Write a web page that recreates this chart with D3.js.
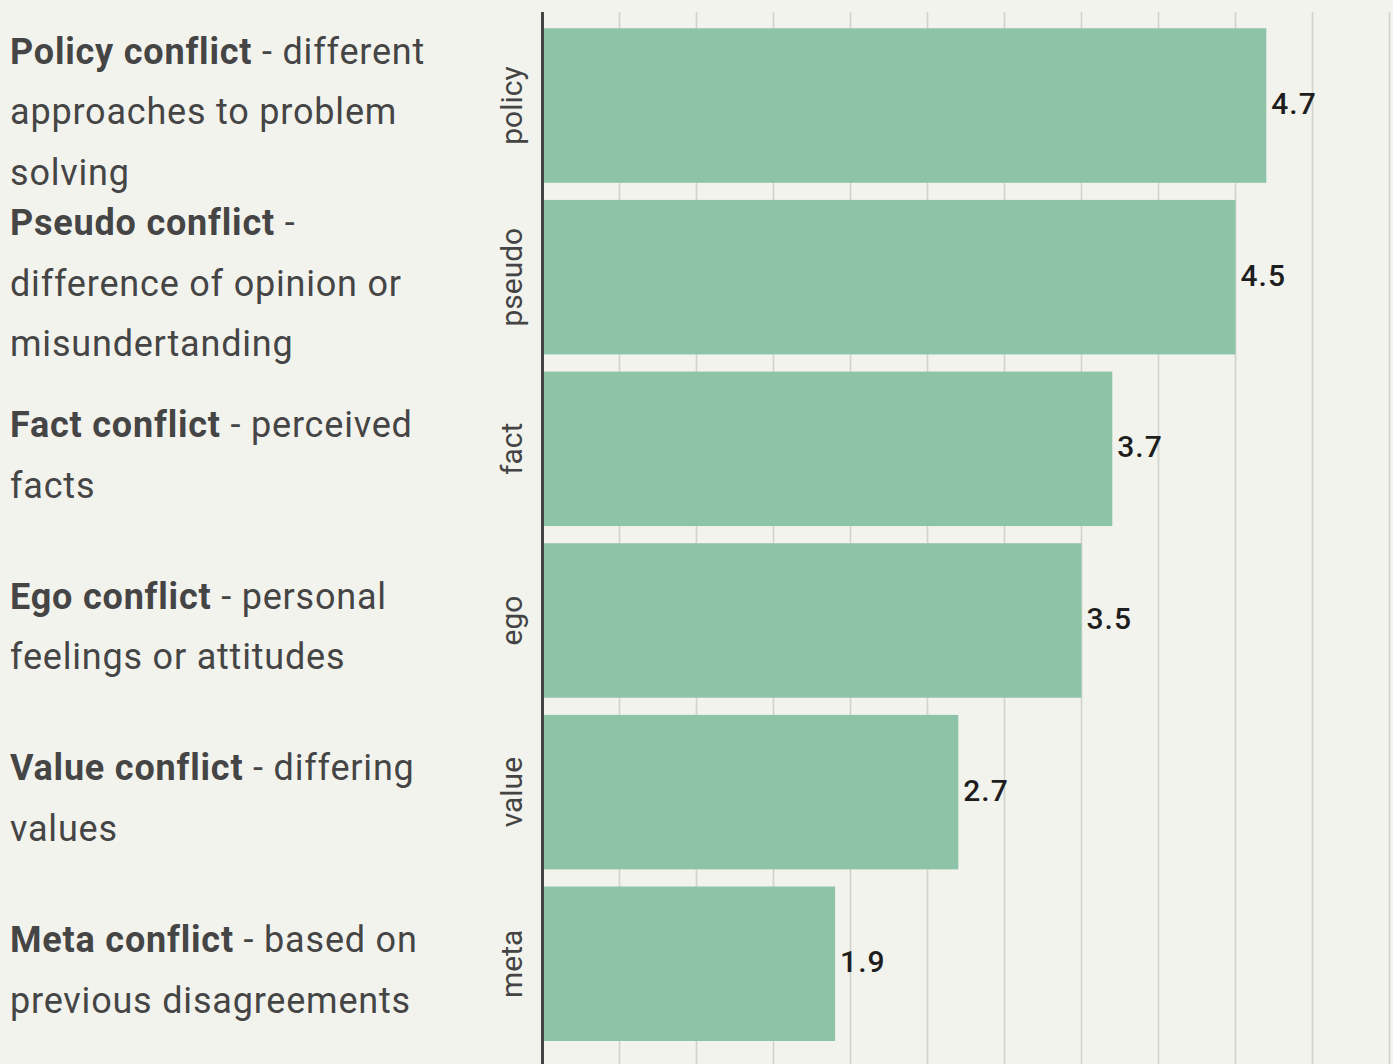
<!DOCTYPE html>
<html>
<head>
<meta charset="utf-8">
<script src="https://cdn.jsdelivr.net/npm/d3@7"></script>
<style>
  html, body { margin: 0; padding: 0; background: #f3f3ee; overflow: hidden; }
  svg { display: block; font-family: Roboto, "Noto Sans", sans-serif; }
</style>
</head>
<body>
<svg id="chart" width="1393" height="1064"></svg>
<script>
// Conflict types, mean scores
const categories = ["policy", "pseudo", "fact", "ego", "value", "meta"];
const values = [4.7, 4.5, 3.7, 3.5, 2.7, 1.9];
const titles = [
  "Policy conflict", "Pseudo conflict", "Fact conflict",
  "Ego conflict", "Value conflict", "Meta conflict"
];
// Each description: first line continues after the bold title, later lines wrap
const descriptions = [
  [" - different", "approaches to problem", "solving"],
  [" -", "difference of opinion or", "misundertanding"],
  [" - perceived", "facts"],
  [" - personal", "feelings or attitudes"],
  [" - differing", "values"],
  [" - based on", "previous disagreements"]
];
const gridTicks = [0.5, 1, 1.5, 2, 2.5, 3, 3.5, 4, 4.5, 5, 5.5];

const W = 1393, H = 1064;
const svg = d3.select("#chart");

const x = d3.scaleLinear().domain([0, 5.65]).range([542.5, 542.5 + 5.65 * 154]);
const y = d3.scaleBand().domain(categories).range([19.7, 1049.6])
  .paddingInner(0.1).paddingOuter(0.05);

// vertical gridlines
svg.append("g").selectAll("line").data(gridTicks).join("line")
  .attr("x1", d => x(d)).attr("x2", d => x(d))
  .attr("y1", 12).attr("y2", H)
  .attr("stroke", "#d3d3ce").attr("stroke-width", 1.6);

// bars
svg.append("g").selectAll("rect").data(categories).join("rect")
  .attr("x", x(0))
  .attr("y", d => y(d))
  .attr("width", (d, i) => x(values[i]) - x(0))
  .attr("height", y.bandwidth())
  .attr("fill", "#8dc3a7");

// value labels
svg.append("g").selectAll("text").data(categories).join("text")
  .attr("x", (d, i) => x(values[i]) + 5)
  .attr("y", d => y(d) + y.bandwidth() / 2 + 8.5)
  .attr("font-size", 30).attr("font-weight", 500).attr("fill", "#1e1e1e")
  .attr("letter-spacing", 1)
  .text((d, i) => values[i].toFixed(1));

// category axis with rotated labels
const axis = svg.append("g").attr("transform", `translate(${x(0)},0)`)
  .call(d3.axisLeft(y).tickSize(0));
axis.select(".domain").remove();
axis.selectAll("text")
  .attr("transform", "rotate(-90)")
  .attr("x", 0).attr("y", -21).attr("dy", 0)
  .attr("text-anchor", "middle")
  .attr("font-size", 30).attr("fill", "#444")
  .attr("font-family", "Roboto, sans-serif");

svg.append("line")
  .attr("x1", x(0)).attr("x2", x(0)).attr("y1", 12).attr("y2", H)
  .attr("stroke", "#444").attr("stroke-width", 3);

// descriptive labels on the left
const lineH = 60.5;
const desc = svg.append("g").attr("font-size", 36).attr("fill", "#454545")
  .attr("letter-spacing", 0.8);
categories.forEach((c, i) => {
  const lines = descriptions[i];
  const mid = y(c) + y.bandwidth() / 2 + 18.5;
  const first = mid - (lines.length - 1) * lineH / 2;
  const t = desc.append("text").attr("x", 10).attr("y", first);
  t.append("tspan").attr("font-weight", 700).text(titles[i]);
  t.append("tspan").text(lines[0]);
  lines.slice(1).forEach((l, j) => {
    desc.append("text").attr("x", 10).attr("y", first + (j + 1) * lineH).text(l);
  });
});
</script>
</body>
</html>
